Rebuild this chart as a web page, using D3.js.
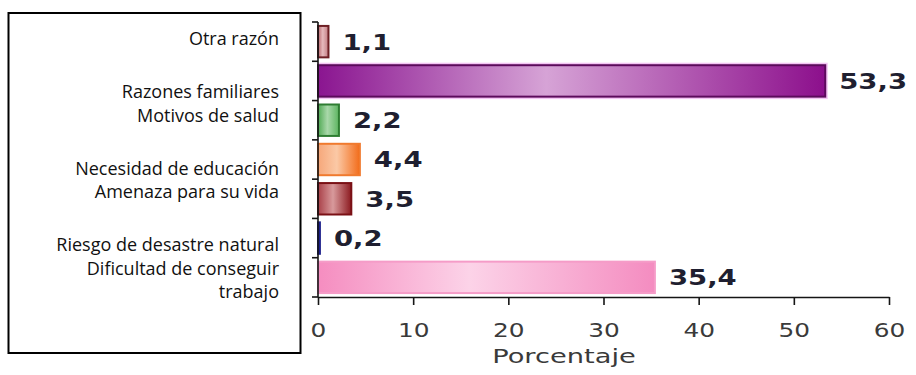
<!DOCTYPE html>
<html>
<head>
<meta charset="utf-8">
<script src="https://cdn.jsdelivr.net/npm/d3@7"></script>
<style>
  body { margin: 0; background: #fff; }
</style>
</head>
<body>
<svg id="chart" width="916" height="375"></svg>
<script>
// Reasons for migrating, percentage of respondents
const categories = [
  "Otra razón",
  "Razones familiares",
  "Motivos de salud",
  "Necesidad de educación",
  "Amenaza para su vida",
  "Riesgo de desastre natural",
  "Dificultad de conseguir trabajo"
];
const values = [1.1, 53.3, 2.2, 4.4, 3.5, 0.2, 35.4];
const valueLabels = ["1,1", "53,3", "2,2", "4,4", "3,5", "0,2", "35,4"];
const xTicks = [0, 10, 20, 30, 40, 50, 60];
const xTickLabels = ["0", "10", "20", "30", "40", "50", "60"];
const axisTitle = "Porcentaje";
// Category text shown in the framed panel, grouped into paragraphs
const panelParagraphs = [
  ["Otra razón"],
  ["Razones familiares", "Motivos de salud"],
  ["Necesidad de educación", "Amenaza para su vida"],
  ["Riesgo de desastre natural", "Dificultad de conseguir", "trabajo"]
];

// Bar styling: edge colour plus gradient stops (left, middle, right)
const palette = [
  { edge: "#6e1f24", stops: ["#b8676d", "#e6b9bc", "#c07a80"] },
  { edge: "#5c0a5c", stops: ["#8a1590", "#d6a3d6", "#8c0f8c"], halo: "#f3c4f3" },
  { edge: "#2e7d32", stops: ["#4fa953", "#a9d8aa", "#5cb460"] },
  { edge: "#f07a2e", stops: ["#f6a77a", "#fbc9a6", "#f26c1a"] },
  { edge: "#7a1015", stops: ["#a94048", "#d89a9c", "#8c1a20"] },
  { edge: "#1c1f8a", stops: ["#1c1f8a", "#3a3fb0", "#1c1f8a"] },
  { edge: "#f59cc8", stops: ["#f58dc0", "#fcd3e8", "#f48cc0"] }
];

const svg = d3.select("#chart");
const plot = { left: 318, right: 889, top: 22, bottom: 297 };

const x = d3.scaleLinear().domain([0, 60]).range([plot.left, plot.right]);
const y = d3.scaleBand().domain(categories)
  .range([plot.top, plot.bottom]).paddingInner(0.2).paddingOuter(0.1);

// Gradients
const defs = svg.append("defs");
palette.forEach((p, i) => {
  const g = defs.append("linearGradient").attr("id", "grad" + i)
    .attr("x1", "0%").attr("x2", "100%").attr("y1", "0%").attr("y2", "0%");
  g.append("stop").attr("offset", "0%").attr("stop-color", p.stops[0]);
  g.append("stop").attr("offset", "45%").attr("stop-color", p.stops[1]);
  g.append("stop").attr("offset", "100%").attr("stop-color", p.stops[2]);
});

// Framed category panel
svg.append("rect")
  .attr("x", 8.5).attr("y", 13).attr("width", 292).attr("height", 340)
  .attr("fill", "#fff").attr("stroke", "#000").attr("stroke-width", 2);

const lineH = 23.5, paraGap = 29.5;
let baseY = 45;
const panelText = svg.append("g")
  .attr("font-family", "'Open Sans', 'Noto Sans', sans-serif")
  .attr("font-size", 18).attr("fill", "#111").attr("text-anchor", "end");
panelParagraphs.forEach(par => {
  par.forEach(line => {
    panelText.append("text").attr("x", 279).attr("y", baseY).text(line);
    baseY += lineH;
  });
  baseY += paraGap;
});

// Bars
const bars = svg.append("g");
bars.selectAll("rect.halo")
  .data(categories.filter((c, i) => palette[i].halo))
  .join("rect")
  .attr("class", "halo")
  .attr("x", x(0))
  .attr("y", c => y(c) - 1.5)
  .attr("width", c => x(values[categories.indexOf(c)]) - x(0) + 1.5)
  .attr("height", y.bandwidth() + 3)
  .attr("fill", "none")
  .attr("stroke", c => palette[categories.indexOf(c)].halo)
  .attr("stroke-width", 2);

bars.selectAll("rect.bar")
  .data(categories)
  .join("rect")
  .attr("class", "bar")
  .attr("x", x(0))
  .attr("y", c => y(c))
  .attr("width", (c, i) => Math.max(x(values[i]) - x(0), 1.5))
  .attr("height", y.bandwidth())
  .attr("fill", (c, i) => "url(#grad" + i + ")")
  .attr("stroke", (c, i) => palette[i].edge)
  .attr("stroke-width", 2);

// Value labels
const vFont = 22;
svg.append("g").selectAll("text")
  .data(categories)
  .join("text")
  .attr("transform", (c, i) =>
    `translate(${x(values[i]) + 14},${y(c) + y.bandwidth() / 2 + vFont * 0.36}) scale(1.25,1)`)
  .attr("font-family", "'DejaVu Sans', Verdana, sans-serif")
  .attr("font-weight", "bold")
  .attr("font-size", vFont)
  .attr("fill", "#1f1f30")
  .text((c, i) => valueLabels[i]);

// Y axis with boundary ticks between categories
const step = y.step();
const yBounds = d3.range(categories.length + 1).map(k => plot.top + k * step);
const axisG = svg.append("g").attr("stroke", "#151515").attr("stroke-width", 1.6);
axisG.append("line")
  .attr("x1", x(0)).attr("x2", x(0))
  .attr("y1", plot.top).attr("y2", plot.bottom);
axisG.selectAll("line.yt").data(yBounds).join("line")
  .attr("class", "yt")
  .attr("x1", x(0) - 6).attr("x2", x(0))
  .attr("y1", d => d).attr("y2", d => d);

// X axis
const xAxis = d3.axisBottom(x).tickValues(xTicks)
  .tickFormat((d, i) => xTickLabels[i]).tickSize(8).tickSizeOuter(0);
const xg = svg.append("g").attr("transform", `translate(0,${plot.bottom})`).call(xAxis);
xg.select(".domain").attr("stroke", "#151515").attr("stroke-width", 1.6);
xg.selectAll(".tick line").attr("stroke", "#151515").attr("stroke-width", 1.6);
xg.selectAll(".tick text")
  .attr("font-family", "'DejaVu Sans', Verdana, sans-serif")
  .attr("font-size", 20)
  .attr("fill", "#3a3a3a")
  .attr("x", 0)
  .attr("y", 26)
  .attr("dy", "0.71em")
  .attr("transform", "scale(1.24,1)");

// Axis title
svg.append("text")
  .attr("transform", `translate(564,363) scale(1.4,1)`)
  .attr("text-anchor", "middle")
  .attr("font-family", "'DejaVu Sans', Verdana, sans-serif")
  .attr("font-size", 19.5)
  .attr("fill", "#3a3a3a")
  .text(axisTitle);
</script>
</body>
</html>
